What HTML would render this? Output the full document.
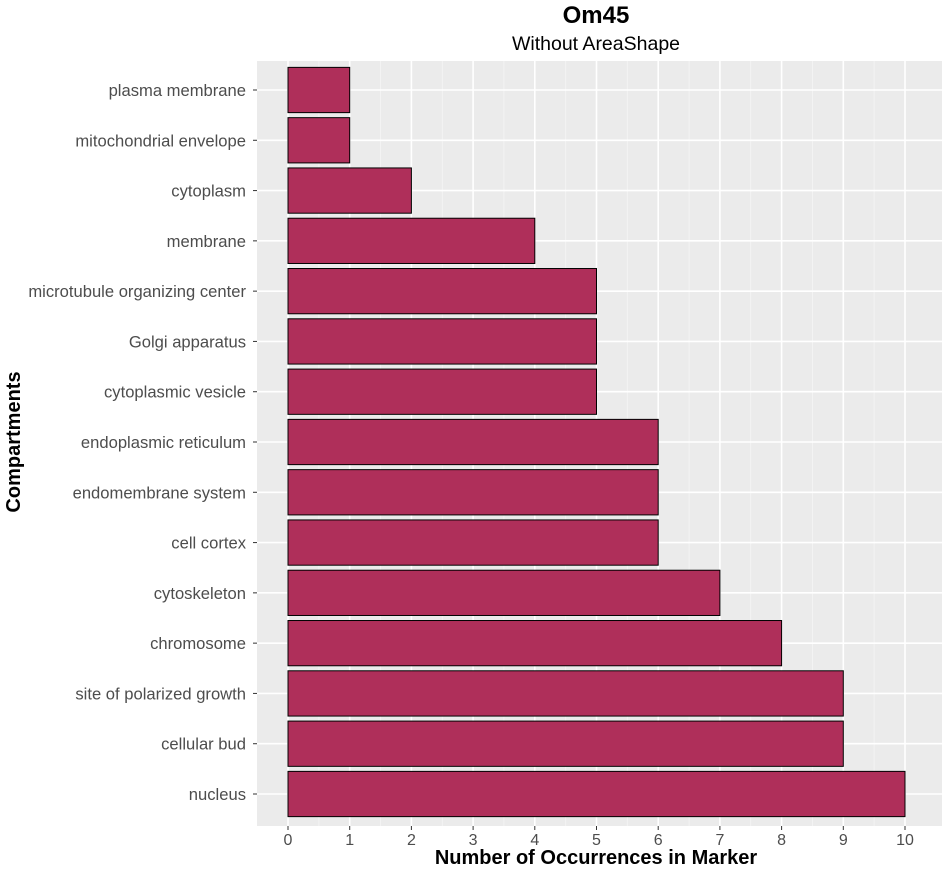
<!DOCTYPE html>
<html><head><meta charset="utf-8"><style>
body{margin:0;background:#fff;font-family:"Liberation Sans",sans-serif}
</style></head><body>
<svg id="chart" width="948" height="874" xmlns="http://www.w3.org/2000/svg">
<text x="596" y="23" text-anchor="middle" font-size="24" font-weight="bold" font-family="Liberation Sans, sans-serif">Om45</text>
<text x="596" y="50" text-anchor="middle" font-size="19.5" font-family="Liberation Sans, sans-serif">Without AreaShape</text>
<rect x="257" y="61" width="685" height="765" fill="#EBEBEB"/>
<g id="grid"></g><g id="bars"></g><g id="axes"></g>
<text x="596" y="864" text-anchor="middle" font-size="20" font-weight="bold" font-family="Liberation Sans, sans-serif">Number of Occurrences in Marker</text>
<text transform="translate(20,442) rotate(-90)" text-anchor="middle" font-size="20" font-weight="bold" font-family="Liberation Sans, sans-serif">Compartments</text>
</svg>
<script>
const categories=["plasma membrane","mitochondrial envelope","cytoplasm","membrane","microtubule organizing center","Golgi apparatus","cytoplasmic vesicle","endoplasmic reticulum","endomembrane system","cell cortex","cytoskeleton","chromosome","site of polarized growth","cellular bud","nucleus"];
const values=[1,1,2,4,5,5,5,6,6,6,7,8,9,9,10];
const xTicks=[0,1,2,3,4,5,6,7,8,9,10];
const NS="http://www.w3.org/2000/svg";
const pL=257,pR=942,pT=61,pB=826;
const x=v=>288+v*61.7;
const step=(794-90)/(categories.length-1);
const yc=i=>90+step*i;
function mk(t,a,p){const e=document.createElementNS(NS,t);for(const k in a)e.setAttribute(k,a[k]);p.appendChild(e);return e;}
const grid=document.getElementById('grid'),bars=document.getElementById('bars'),axes=document.getElementById('axes');
xTicks.forEach(t=>{
 if(t<10){const mn=mk('line',{x1:x(t+0.5),x2:x(t+0.5),y1:pT,y2:pB,stroke:'#F5F5F5','stroke-width':0.8},grid);
 
 }
 const g=mk('line',{x1:x(t),x2:x(t),y1:pT,y2:pB,stroke:'#fff','stroke-width':1.6},grid);
 
 
 const tk=mk('line',{x1:x(t),x2:x(t),y1:pB,y2:pB+4,stroke:'#333','stroke-width':1},axes);
 
 
 const tl=mk('text',{x:x(t),y:pB+19,'text-anchor':'middle','font-size':16,fill:'#4D4D4D','font-family':'Liberation Sans, sans-serif'},axes);
 tl.textContent=t;
 
 
});
categories.forEach((c,i)=>{
 const g=mk('line',{x1:pL,x2:pR,y1:yc(i),y2:yc(i),stroke:'#fff','stroke-width':1.6},grid);
 
 
 const h=step*0.9;
 const b=mk('rect',{x:x(0),y:yc(i)-h/2,width:x(values[i])-x(0),height:h,fill:'#AF2F5A',stroke:'#000','stroke-width':1},bars);
 
 
 const tk=mk('line',{x1:pL-4,x2:pL,y1:yc(i),y2:yc(i),stroke:'#333','stroke-width':1},axes);
 
 
 const tl=mk('text',{x:pL-11,y:yc(i)+6,'text-anchor':'end','font-size':16.6,fill:'#4D4D4D','font-family':'Liberation Sans, sans-serif'},axes);
 tl.textContent=c;
 
 
});
</script>
</body></html>
